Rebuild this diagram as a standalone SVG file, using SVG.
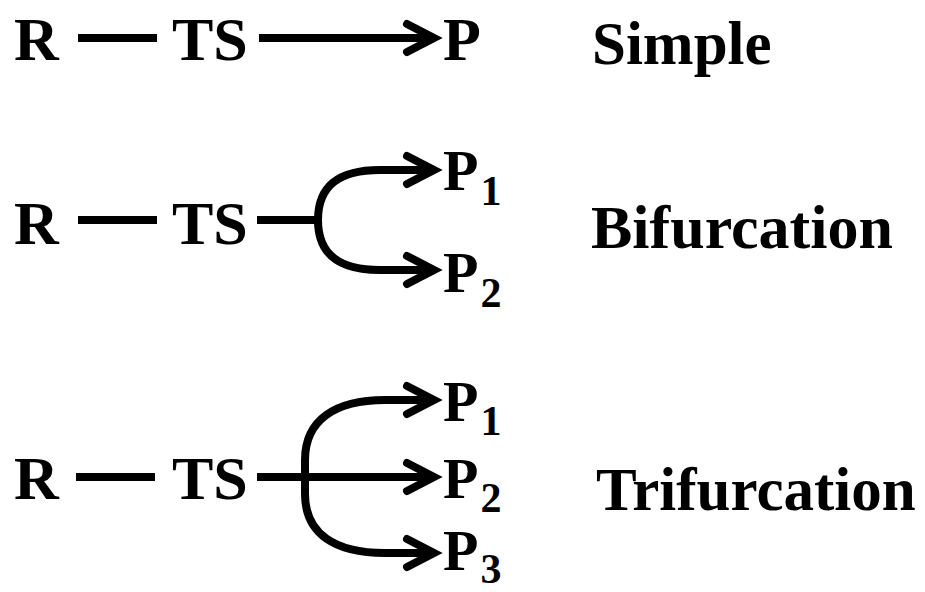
<svg xmlns="http://www.w3.org/2000/svg" width="925" height="592" viewBox="0 0 925 592">
<defs>
<marker id="ah" markerUnits="userSpaceOnUse" markerWidth="40" markerHeight="40" viewBox="0 0 40 40" refX="30" refY="20" orient="auto" overflow="visible">
<path d="M5,6 L32,20 L5,34" fill="none" stroke="#000" stroke-width="8" stroke-linecap="round" stroke-linejoin="miter"/>
</marker>
</defs>
<rect width="925" height="592" fill="#fff"/>
<g id="connectors" fill="none" stroke="#000" stroke-width="8">
<line x1="78" y1="38" x2="157" y2="38"/>
<line x1="259" y1="38" x2="432" y2="38" marker-end="url(#ah)"/>
<line x1="78" y1="220" x2="157" y2="220"/>
<line x1="257" y1="220" x2="318" y2="220"/>
<path d="M318,220 C318,185 340,170 380,170 L432,170" marker-end="url(#ah)"/>
<path d="M318,220 C318,255 340,270 380,270 L432,270" marker-end="url(#ah)"/>
<line x1="76" y1="477" x2="155" y2="477"/>
<line x1="257" y1="477" x2="432" y2="477" marker-end="url(#ah)"/>
<path d="M305,477 L305,460 C305,420 335,400 385,400 L432,400" marker-end="url(#ah)"/>
<path d="M305,477 L305,494 C305,534 335,553 385,553 L432,553" marker-end="url(#ah)"/>
</g>
<g id="row1">
<g id="R1"><text x="14" y="60" font-family="Liberation Serif" font-weight="bold" font-size="62">R</text></g>
<g id="TS1"><text x="172" y="60" font-family="Liberation Serif" font-weight="bold" font-size="62">TS</text></g>
<g id="P1"><text x="443" y="60" font-family="Liberation Serif" font-weight="bold" font-size="62">P</text></g>
<g id="lab1"><text x="592" y="64" font-family="Liberation Serif" font-weight="bold" font-size="61">Simple</text></g>
</g>
<g id="row2">
<g id="R2"><text x="14" y="244" font-family="Liberation Serif" font-weight="bold" font-size="62">R</text></g>
<g id="TS2"><text x="172" y="244" font-family="Liberation Serif" font-weight="bold" font-size="62">TS</text></g>
<g id="P21"><text x="443" y="190" font-family="Liberation Serif" font-weight="bold" font-size="58">P<tspan font-size="42" dx="2" dy="15">1</tspan></text></g>
<g id="P22"><text x="443" y="292" font-family="Liberation Serif" font-weight="bold" font-size="58">P<tspan font-size="42" dx="2" dy="15">2</tspan></text></g>
<g id="lab2"><text x="591" y="248" font-family="Liberation Serif" font-weight="bold" font-size="62">Bifurcation</text></g>
</g>
<g id="row3">
<g id="R3"><text x="14" y="499" font-family="Liberation Serif" font-weight="bold" font-size="62">R</text></g>
<g id="TS3"><text x="172" y="499" font-family="Liberation Serif" font-weight="bold" font-size="62">TS</text></g>
<g id="P31"><text x="443" y="421" font-family="Liberation Serif" font-weight="bold" font-size="58">P<tspan font-size="42" dx="2" dy="14">1</tspan></text></g>
<g id="P32"><text x="443" y="498" font-family="Liberation Serif" font-weight="bold" font-size="58">P<tspan font-size="42" dx="2" dy="14">2</tspan></text></g>
<g id="P33"><text x="443" y="570" font-family="Liberation Serif" font-weight="bold" font-size="58">P<tspan font-size="42" dx="2" dy="13">3</tspan></text></g>
<g id="lab3"><text x="596" y="510" font-family="Liberation Serif" font-weight="bold" font-size="61">Trifurcation</text></g>
</g>
</svg>
